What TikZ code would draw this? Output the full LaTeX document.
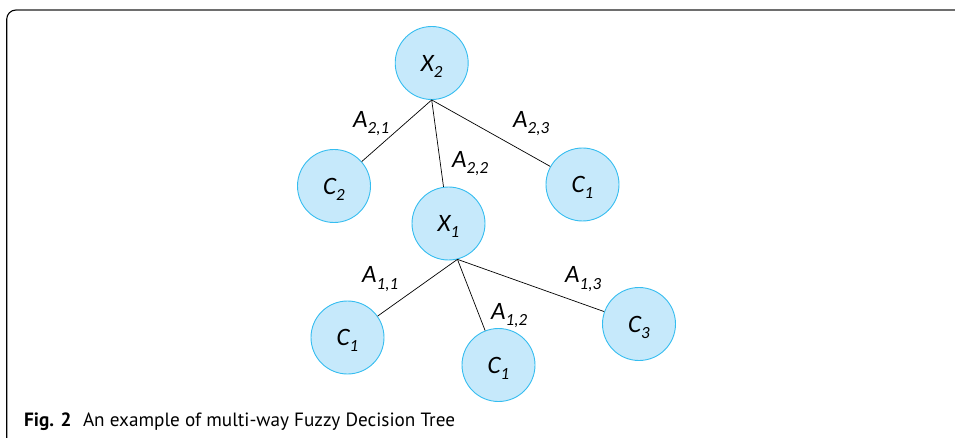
\documentclass[tikz,border=0pt]{standalone}
\usepackage{fontspec}
\setmainfont{PT Sans}
\newfontfamily\labelfont{Carlito}
\definecolor{nodefill}{HTML}{C6E9FB}
\definecolor{nodeborder}{HTML}{35BDF0}
\definecolor{framegray}{HTML}{6E6E6E}
% lowered, smaller index written after a symbol
\newcommand\lowidx[1]{\smash{\raisebox{-6pt}{\fontsize{17}{17}\selectfont#1}}}
\tikzset{
  treenode/.style={circle, draw=nodeborder, fill=nodefill, line width=0.9pt,
    minimum size=73pt, inner sep=0pt,
    font=\labelfont\itshape\fontsize{25}{25}\selectfont},
  edgelabel/.style={anchor=base west, inner sep=0pt,
    font=\labelfont\itshape\fontsize{25}{25}\selectfont},
  branch/.style={draw=black, line width=0.7pt},
}
\begin{document}
\begin{tikzpicture}[x=1pt, y=-1pt]
\useasboundingbox (0,0) rectangle (955,438);

% outer frame: rounded top-left corner, open to the right and bottom
\draw[framegray, line width=1.8pt] (955,10) -- (16,10);
\draw[black, line width=1.1pt] (16,10) arc[start angle=-90, end angle=-180, radius=9.3] -- (6.7,438);

% tree nodes
\node[treenode] (x2)  at (431.7,63)   {X\lowidx{2}};
\node[treenode] (c2)  at (334,186)    {C\lowidx{2}};
\node[treenode] (x1)  at (448.5,223.5){X\lowidx{1}};
\node[treenode] (c1a) at (582.5,184.5){C\lowidx{1}};
\node[treenode] (c1b) at (347.5,337.5){C\lowidx{1}};
\node[treenode] (c1c) at (498.5,365)  {C\lowidx{1}};
\node[treenode] (c3)  at (639,324)    {C\lowidx{3}};

% branches
\path[branch] (x2.south) -- (c2);
\path[branch] (x2.south) -- (x1);
\path[branch] (x2.south) -- (c1a);
\path[branch] (x1.-76) -- (c1b);
\path[branch] (x1.-76) -- (c1c);
\path[branch] (x1.-76) -- (c3);

% branch labels
\node[edgelabel] (a21) at (353,128) {A\lowidx{2,1}};
\node[edgelabel] (a22) at (452,168) {A\lowidx{2,2}};
\node[edgelabel] (a23) at (513,128) {A\lowidx{2,3}};
\node[edgelabel] (a11) at (362,283) {A\lowidx{1,1}};
\node[edgelabel] (a12) at (491,319) {A\lowidx{1,2}};
\node[edgelabel] (a13) at (565,283) {A\lowidx{1,3}};

% caption
\node[anchor=base west, inner sep=0pt, font=\fontsize{19.2}{19.2}\selectfont] (cap) at (24,426)
  {\textbf{Fig. 2}\hspace{0.6em}An example of multi-way Fuzzy Decision Tree};
\end{tikzpicture}
\end{document}
